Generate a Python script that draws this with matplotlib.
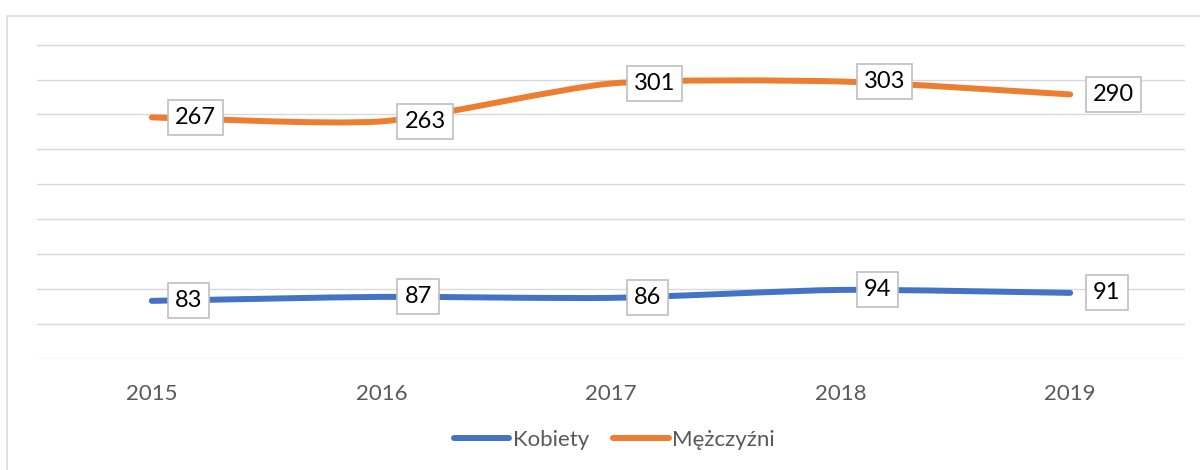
import matplotlib
matplotlib.use("Agg")
import matplotlib.pyplot as plt
from matplotlib.path import Path
from matplotlib.patches import PathPatch, Rectangle
from matplotlib.lines import Line2D
import numpy as np

years = ["2015", "2016", "2017", "2018", "2019"]
kobiety = [83, 87, 86, 94, 91]
mezczyzni = [267, 263, 301, 303, 290]
series_names = ["Kobiety", "Mężczyźni"]
colors = ["#4472C4", "#ED7D31"]

plt.rcParams['font.family'] = ['Lato', 'DejaVu Sans']

W, H = 1200, 470
fig = plt.figure(figsize=(W / 100, H / 100), dpi=100)

# outer frame
fig.patches.append(Rectangle((7 / W, -0.1), 1.2, (H - 16) / H + 0.1, transform=fig.transFigure,
                             fill=False, edgecolor="#D9D9D9", linewidth=1.2))

ax_left, ax_right = 37, 1185
ax_bottom_px, ax_top_px = 358.7, 20
ax = fig.add_axes([ax_left / W, (H - ax_bottom_px) / H, (ax_right - ax_left) / W,
                   (ax_bottom_px - ax_top_px) / H])
ax.set_facecolor("none")
ymin = 25
scale = 34.9 / 35
ymax = ymin + (ax_bottom_px - ax_top_px) / scale
ax.set_ylim(ymin, ymax)
ax.set_xlim(-0.5, len(years) - 0.5)
ax.set_yticks(np.arange(25, 341, 35))
ax.yaxis.grid(True, color="#D9D9D9", linewidth=1.0)
ax.set_axisbelow(True)
for s in ax.spines.values():
    s.set_visible(False)
ax.tick_params(axis='y', left=False, labelleft=False)
ax.set_xticks(range(len(years)))
ax.set_xticklabels(years, fontsize=16, color="#595959")
ax.tick_params(axis='x', bottom=False, pad=15)


def smooth_path(xs, ys, k=1 / 9.0):
    pts = np.column_stack([xs, ys]).astype(float)
    n = len(pts)
    verts = [pts[0]]
    codes = [Path.MOVETO]
    for i in range(n - 1):
        p0 = pts[i - 1] if i > 0 else pts[i]
        p1 = pts[i]
        p2 = pts[i + 1]
        p3 = pts[i + 2] if i + 2 < n else pts[i + 1]
        c1 = p1 + (p2 - p0) * k
        c2 = p2 - (p3 - p1) * k
        verts += [c1, c2, p2]
        codes += [Path.CURVE4] * 3
    return Path(verts, codes)


x = np.arange(len(years))
for vals, c in zip([kobiety, mezczyzni], colors):
    patch = PathPatch(smooth_path(x, vals), fill=False, edgecolor=c, linewidth=4.3,
                      capstyle='round', joinstyle='round', zorder=3)
    ax.add_patch(patch)
    for xi, v in zip(x, vals):
        ax.annotate(str(v), (xi, v), xytext=(23, 0), textcoords='offset pixels',
                    ha='left', va='center', fontsize=17, color="#000000", zorder=5,
                    bbox=dict(boxstyle='square,pad=0.3', facecolor='white',
                              edgecolor='#BFBFBF', linewidth=1.2))

handles = [Line2D([0], [0], color=c, linewidth=4.3, solid_capstyle='round') for c in colors]
leg = fig.legend(handles, series_names, loc='center', bbox_to_anchor=(0.512, (H - 440) / H),
                 ncol=2, frameon=False, fontsize=16, handlelength=2.5, handletextpad=0.15,
                 columnspacing=1.1)
for t in leg.get_texts():
    t.set_color("#595959")

fig.savefig("out.png", dpi=100)
